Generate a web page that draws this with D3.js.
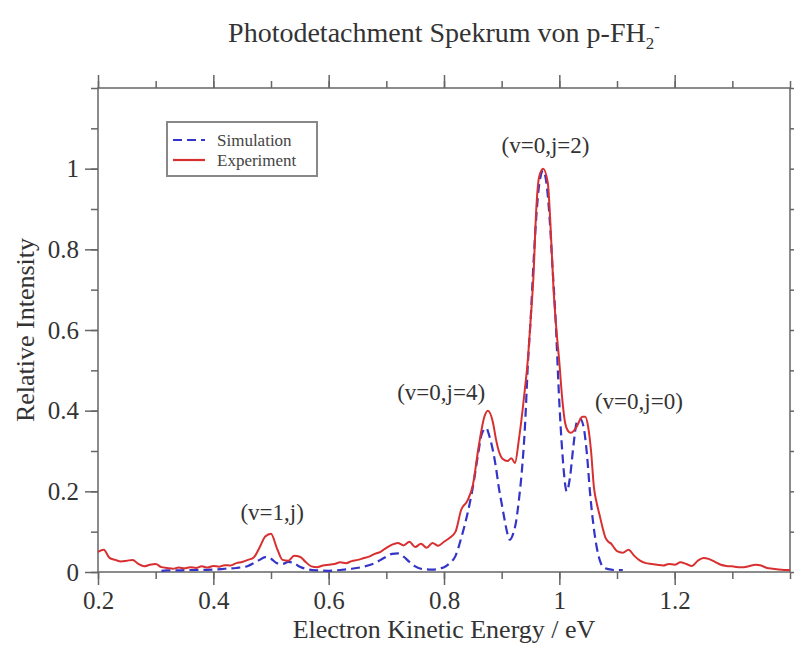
<!DOCTYPE html>
<html>
<head>
<meta charset="utf-8">
<script src="https://cdn.jsdelivr.net/npm/d3@7"></script>
<style>
  body { margin: 0; background: #fff; }
  svg { display: block; font-family: "Liberation Serif", "Times New Roman", serif; }
</style>
</head>
<body>
<svg id="chart" width="794" height="646"></svg>
<script>
// photodetachment spectrum data
const expEnergy = [0.20,0.21,0.22,0.23,0.24,0.25,0.26,0.27,0.28,0.29,0.30,0.31,0.32,0.33,0.34,0.35,0.36,0.37,0.38,0.39,
  0.40,0.41,0.42,0.43,0.44,0.45,0.46,0.47,0.48,0.49,0.50,0.51,0.52,0.53,0.54,0.55,0.56,0.57,0.58,0.59,
  0.60,0.61,0.62,0.63,0.64,0.65,0.66,0.67,0.68,0.69,0.70,0.71,0.72,0.73,0.74,0.75,0.76,0.77,0.78,0.79,
  0.80,0.81,0.82,0.83,0.84,0.85,0.86,0.87,0.876,0.885,0.89,0.895,0.902,0.91,0.917,0.923,0.93,0.94,0.945,0.95,
  0.955,0.96,0.965,0.972,0.98,0.985,0.99,0.995,1.00,1.005,1.01,1.015,1.02,1.025,1.03,1.035,1.04,1.045,1.05,1.055,
  1.06,1.065,1.07,1.075,1.08,1.085,1.09,1.095,1.10,1.11,1.12,1.13,1.14,1.15,1.16,1.17,1.18,1.19,1.20,1.21,
  1.22,1.23,1.24,1.25,1.26,1.27,1.28,1.29,1.30,1.31,1.32,1.33,1.34,1.35,1.36,1.37,1.38,1.39,1.40];
const expIntensity = [0.050,0.055,0.035,0.030,0.026,0.028,0.030,0.020,0.014,0.018,0.020,0.012,0.010,0.008,0.011,0.009,0.012,0.010,0.014,0.011,
  0.015,0.013,0.017,0.016,0.022,0.025,0.030,0.036,0.060,0.088,0.095,0.060,0.030,0.028,0.040,0.038,0.025,0.014,0.012,0.016,
  0.018,0.020,0.024,0.022,0.027,0.030,0.034,0.038,0.045,0.050,0.060,0.068,0.072,0.066,0.075,0.062,0.070,0.060,0.072,0.065,
  0.075,0.085,0.100,0.155,0.175,0.215,0.310,0.385,0.400,0.370,0.330,0.300,0.280,0.275,0.282,0.270,0.330,0.450,0.520,0.620,
  0.730,0.900,0.980,1.000,0.965,0.850,0.700,0.600,0.520,0.430,0.370,0.350,0.345,0.350,0.360,0.375,0.385,0.385,0.360,0.300,
  0.210,0.170,0.140,0.110,0.085,0.075,0.070,0.060,0.052,0.048,0.055,0.040,0.028,0.022,0.020,0.018,0.016,0.020,0.018,0.024,
  0.020,0.015,0.028,0.035,0.032,0.025,0.018,0.015,0.014,0.012,0.012,0.015,0.018,0.016,0.010,0.008,0.006,0.005,0.005];

const simEnergy = [0.31,0.32,0.34,0.36,0.38,0.40,0.42,0.44,0.46,0.47,0.48,0.49,0.50,0.51,0.52,0.53,0.54,0.55,0.56,0.58,
  0.60,0.62,0.64,0.66,0.68,0.69,0.70,0.71,0.72,0.73,0.74,0.75,0.76,0.78,0.80,0.81,0.82,0.83,0.84,0.85,
  0.86,0.865,0.873,0.88,0.885,0.89,0.895,0.90,0.905,0.91,0.914,0.92,0.925,0.93,0.935,0.94,0.946,0.95,0.955,0.96,
  0.965,0.972,0.978,0.983,0.988,0.993,1.00,1.005,1.013,1.018,1.025,1.03,1.036,1.042,1.048,1.053,1.058,1.065,1.07,1.076,
  1.085,1.095,1.11];
const simIntensity = [0.003,0.004,0.004,0.005,0.005,0.006,0.008,0.010,0.015,0.022,0.030,0.037,0.033,0.022,0.020,0.025,0.022,0.013,0.008,0.004,
  0.003,0.005,0.008,0.013,0.022,0.030,0.038,0.045,0.046,0.038,0.025,0.014,0.008,0.006,0.012,0.022,0.040,0.085,0.140,0.210,
  0.300,0.340,0.357,0.330,0.300,0.260,0.210,0.170,0.130,0.095,0.080,0.095,0.125,0.180,0.250,0.350,0.530,0.620,0.760,0.880,
  0.960,0.995,0.960,0.880,0.760,0.640,0.420,0.300,0.200,0.230,0.320,0.370,0.380,0.360,0.290,0.200,0.130,0.060,0.030,0.012,
  0.007,0.005,0.005];

const xTicks = [0.2, 0.4, 0.6, 0.8, 1, 1.2];
const yTicks = [0, 0.2, 0.4, 0.6, 0.8, 1];
const peakLabels = ["(v=1,j)", "(v=0,j=4)", "(v=0,j=2)", "(v=0,j=0)"];
const peakEnergy = [0.502, 0.795, 0.976, 1.138];
const peakLevel = [0.13, 0.427, 1.04, 0.405];

const svg = d3.select("#chart");
const plotLeft = 98, plotRight = 790, plotTop = 88, plotBottom = 572;

const x = d3.scaleLinear().domain([0.2, 1.4]).range([plotLeft, plotRight]);
const y = d3.scaleLinear().domain([0, 1.2]).range([plotBottom, plotTop]);

const axisColor = "#666";
const textColor = "#333";

// frame
svg.append("rect")
    .attr("x", plotLeft).attr("y", plotTop)
    .attr("width", plotRight - plotLeft).attr("height", plotBottom - plotTop)
    .attr("fill", "none")
    .attr("stroke", axisColor)
    .attr("stroke-width", 1.5);

const xMinor = d3.range(0.2, 1.41, 0.1);
const yMinor = d3.range(0, 1.21, 0.1);

function styleAxis(g) {
    g.select(".domain").remove();
    g.selectAll("line").attr("stroke", axisColor).attr("stroke-width", 1.5);
    g.selectAll("text").attr("fill", textColor).attr("font-size", "25px")
        .attr("font-family", "Liberation Serif, serif");
}

// bottom axis: minor then major
svg.append("g").attr("transform", `translate(0,${plotBottom})`)
    .call(d3.axisBottom(x).tickValues(xMinor).tickSize(7).tickFormat(""))
    .call(styleAxis);
svg.append("g").attr("transform", `translate(0,${plotBottom})`)
    .call(d3.axisBottom(x).tickValues(xTicks).tickSize(13).tickPadding(6).tickFormat(d3.format("")))
    .call(styleAxis);

// top axis
svg.append("g").attr("transform", `translate(0,${plotTop})`)
    .call(d3.axisTop(x).tickValues(xMinor).tickSize(7).tickFormat(""))
    .call(styleAxis);
svg.append("g").attr("transform", `translate(0,${plotTop})`)
    .call(d3.axisTop(x).tickValues(xTicks).tickSize(13).tickFormat(""))
    .call(styleAxis);

// left axis
svg.append("g").attr("transform", `translate(${plotLeft},0)`)
    .call(d3.axisLeft(y).tickValues(yMinor).tickSize(7).tickFormat(""))
    .call(styleAxis);
svg.append("g").attr("transform", `translate(${plotLeft},0)`)
    .call(d3.axisLeft(y).tickValues(yTicks).tickSize(13).tickPadding(6).tickFormat(d3.format("")))
    .call(styleAxis);

// right axis
svg.append("g").attr("transform", `translate(${plotRight},0)`)
    .call(d3.axisRight(y).tickValues(yMinor).tickSize(7).tickFormat(""))
    .call(styleAxis);

// curves
const expData = expEnergy.map((e, i) => [e, expIntensity[i]]);
const simData = simEnergy.map((e, i) => [e, simIntensity[i]]);

const line = d3.line()
    .x(d => x(d[0]))
    .y(d => y(d[1]))
    .curve(d3.curveMonotoneX);

svg.append("path")
    .datum(simData)
    .attr("d", line)
    .attr("fill", "none")
    .attr("stroke", "#3434c8")
    .attr("stroke-width", 2.2)
    .attr("stroke-dasharray", "9,5");

svg.append("path")
    .datum(expData)
    .attr("d", line)
    .attr("fill", "none")
    .attr("stroke", "#d83030")
    .attr("stroke-width", 2);

// peak labels
svg.append("g").selectAll("text")
    .data(peakLabels)
    .join("text")
    .attr("x", (d, i) => x(peakEnergy[i]))
    .attr("y", (d, i) => y(peakLevel[i]))
    .attr("text-anchor", "middle")
    .attr("font-size", "23px")
    .attr("fill", textColor)
    .text(d => d);

// legend
const legend = svg.append("g").attr("transform", "translate(167,122)");
legend.append("rect")
    .attr("width", 150).attr("height", 54)
    .attr("fill", "#fff")
    .attr("stroke", "#888")
    .attr("stroke-width", 2);
const legendItems = [
    { name: "Simulation", color: "#3434c8", dash: "9,5" },
    { name: "Experiment", color: "#d83030", dash: null }
];
legendItems.forEach((item, i) => {
    const ly = 18 + i * 20;
    legend.append("line")
        .attr("x1", 6).attr("x2", 38)
        .attr("y1", ly).attr("y2", ly)
        .attr("stroke", item.color)
        .attr("stroke-width", 2.2)
        .attr("stroke-dasharray", item.dash);
    legend.append("text")
        .attr("x", 50).attr("y", ly + 6)
        .attr("font-size", "17px")
        .attr("fill", "#444")
        .text(item.name);
});

// axis titles
svg.append("text")
    .attr("x", (plotLeft + plotRight) / 2)
    .attr("y", 638)
    .attr("text-anchor", "middle")
    .attr("font-size", "26px")
    .attr("fill", textColor)
    .text("Electron Kinetic Energy / eV");

svg.append("text")
    .attr("transform", `translate(34,${(plotTop + plotBottom) / 2}) rotate(-90)`)
    .attr("text-anchor", "middle")
    .attr("font-size", "26px")
    .attr("fill", textColor)
    .text("Relative Intensity");

// title with sub/superscript
const title = svg.append("text")
    .attr("x", (plotLeft + plotRight) / 2)
    .attr("y", 42)
    .attr("text-anchor", "middle")
    .attr("font-size", "28px")
    .attr("fill", textColor);
title.append("tspan").text("Photodetachment Spekrum von p-FH");
title.append("tspan").attr("font-size", "17px").attr("dy", 7).text("2");
title.append("tspan").attr("font-size", "17px").attr("dy", -17).text("-");
</script>
</body>
</html>
